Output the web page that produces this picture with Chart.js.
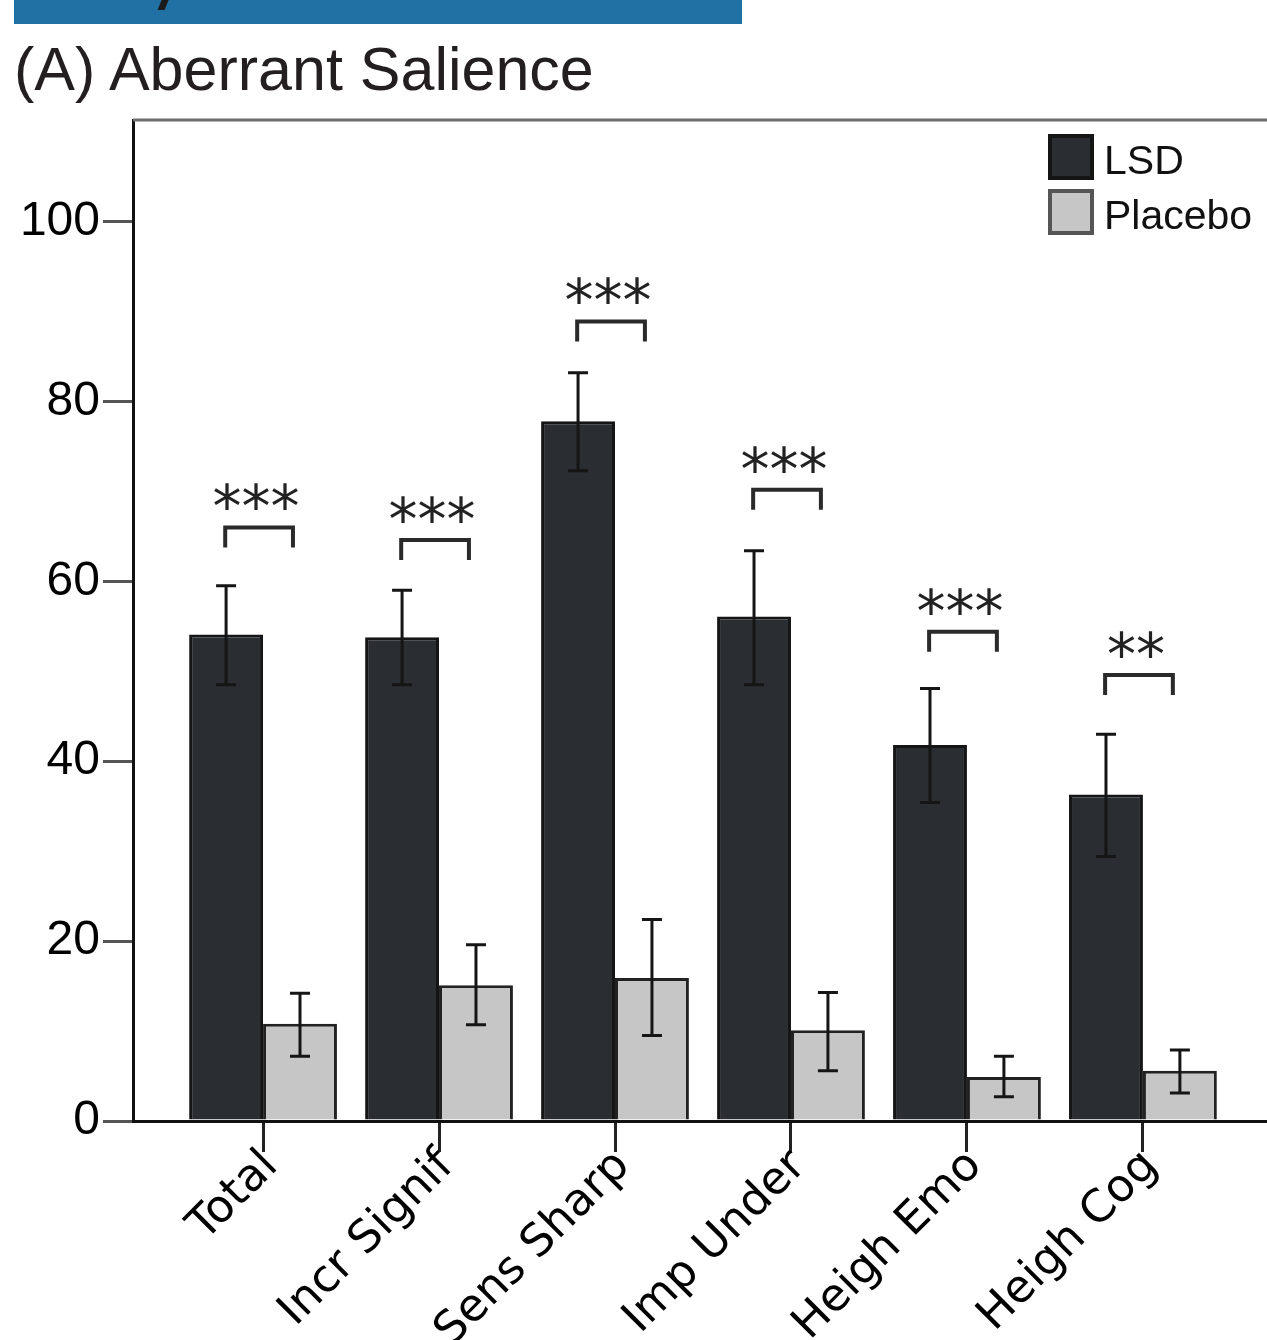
<!DOCTYPE html>
<html>
<head>
<meta charset="utf-8">
<title>Aberrant Salience</title>
<script src="https://cdn.jsdelivr.net/npm/chart.js@4.4.1/dist/chart.umd.min.js"></script>
<style>
  html, body { margin: 0; padding: 0; background: #fff; }
  body { width: 1267px; height: 1340px; position: relative; overflow: hidden; font-family: "Liberation Sans", Arial, sans-serif; }
  #banda { position: absolute; left: 14px; top: 0; width: 728px; height: 24px; background: #2271a5; overflow: hidden; }
  #banda span { position: absolute; left: 146px; top: -2px; width: 7px; height: 12px; background: #1a1a1a; transform: skewX(-22deg); }
  #titulo { position: absolute; left: 14px; top: 39px; font-size: 61px; line-height: 60px; color: #231f20; white-space: nowrap; }
  #grafico { position: absolute; left: 0; top: 0; }
</style>
</head>
<body>
<div id="banda"><span></span></div>
<div id="titulo">(A) Aberrant Salience</div>
<canvas id="grafico" width="1267" height="1340"></canvas>
<script>
// Datos
const categorias = ['Total', 'Incr Signif', 'Sens Sharp', 'Imp Under', 'Heigh Emo', 'Heigh Cog'];
const mediasLSD = [54.1, 53.8, 77.8, 56.1, 41.8, 36.3];
const errSupLSD = [59.5, 59.0, 83.2, 63.4, 48.1, 43.0];
const errInfLSD = [48.5, 48.5, 72.3, 48.5, 35.4, 29.4];
const mediasPlacebo = [10.8, 15.1, 15.9, 10.1, 4.9, 5.6];
const errSupPlacebo = [14.2, 19.6, 22.4, 14.3, 7.2, 7.9];
const errInfPlacebo = [7.2, 10.7, 9.5, 5.6, 2.7, 3.1];
const significancia = ['***', '***', '***', '***', '***', '**'];
const alturaCorchete = [66.0, 64.6, 88.9, 70.2, 54.4, 49.6];
const ticksY = [0, 20, 40, 60, 80, 100];
const series = ['LSD', 'Placebo'];

const colorLSD = '#2a2d31';
const colorPlacebo = '#c5c6c5';

// Plugin para marco superior, barras de error, corchetes y leyenda
const extras = {
  id: 'extras',
  afterDatasetsDraw(chart) {
    const ctx = chart.ctx;
    const area = chart.chartArea;
    const escX = chart.scales.x;
    const escY = chart.scales.y;
    ctx.save();

    // linea superior del marco
    ctx.strokeStyle = '#6e6e6e';
    ctx.lineWidth = 3;
    ctx.beginPath();
    ctx.moveTo(area.left, area.top);
    ctx.lineTo(area.right, area.top);
    ctx.stroke();

    // barras de error
    const errores = [[errSupLSD, errInfLSD], [errSupPlacebo, errInfPlacebo]];
    errores.forEach(([sup, inf], d) => {
      chart.getDatasetMeta(d).data.forEach((barra, i) => {
        const ys = escY.getPixelForValue(sup[i]);
        const yi = escY.getPixelForValue(inf[i]);
        ctx.strokeStyle = '#151515';
        ctx.lineWidth = 3;
        ctx.beginPath();
        ctx.moveTo(barra.x, ys);
        ctx.lineTo(barra.x, yi);
        ctx.moveTo(barra.x - 10, ys);
        ctx.lineTo(barra.x + 10, ys);
        ctx.moveTo(barra.x - 10, yi);
        ctx.lineTo(barra.x + 10, yi);
        ctx.stroke();
      });
    });

    // corchetes de significancia
    ctx.font = '58px "DejaVu Sans"';
    ctx.textAlign = 'center';
    ctx.textBaseline = 'alphabetic';
    categorias.forEach((c, i) => {
      const x1 = escX.getPixelForValue(i - 0.215);
      const x2 = escX.getPixelForValue(i + 0.17);
      const yc = escY.getPixelForValue(alturaCorchete[i]);
      ctx.strokeStyle = '#2a2a2a';
      ctx.lineWidth = 4;
      ctx.beginPath();
      ctx.moveTo(x1, yc + 20);
      ctx.lineTo(x1, yc);
      ctx.lineTo(x2, yc);
      ctx.lineTo(x2, yc + 20);
      ctx.stroke();
      const m = ctx.measureText(significancia[i]);
      ctx.fillStyle = '#222';
      ctx.fillText(significancia[i], (x1 + x2) / 2 - 3, yc - 17 - m.actualBoundingBoxDescent);
    });

    // leyenda
    const lx = area.right - 217;
    const estilos = [
      { fondo: colorLSD, borde: '#151515' },
      { fondo: colorPlacebo, borde: '#555' }
    ];
    ctx.font = '41px "Liberation Sans", Arial, sans-serif';
    ctx.textAlign = 'left';
    ctx.textBaseline = 'middle';
    series.forEach((s, k) => {
      const ly = area.top + 16 + k * 55;
      ctx.fillStyle = estilos[k].fondo;
      ctx.fillRect(lx, ly, 42, 42);
      ctx.strokeStyle = estilos[k].borde;
      ctx.lineWidth = 4;
      ctx.strokeRect(lx, ly, 42, 42);
      ctx.fillStyle = '#111';
      ctx.fillText(s, lx + 54, ly + 27);
    });

    ctx.restore();
  }
};

const config = {
  type: 'bar',
  data: {
    datasets: [
      {
        label: series[0],
        data: mediasLSD.map((v, i) => ({ x: i, y: v })),
        backgroundColor: colorLSD,
        borderColor: '#151515',
        borderWidth: 3
      },
      {
        label: series[1],
        data: mediasPlacebo.map((v, i) => ({ x: i, y: v })),
        backgroundColor: colorPlacebo,
        borderColor: '#222',
        borderWidth: 3
      }
    ]
  },
  options: {
    responsive: false,
    animation: false,
    categoryPercentage: 0.84,
    barPercentage: 1.0,
    layout: { padding: { top: 120, right: 0, left: 0, bottom: 0 } },
    plugins: {
      legend: { display: false },
      tooltip: { enabled: false }
    },
    scales: {
      x: {
        type: 'linear',
        offset: false,
        min: -0.739,
        max: 5.705,
        afterBuildTicks: (escala) => { escala.ticks = categorias.map((c, i) => ({ value: i })); },
        afterFit: (escala) => { escala.height = 219; },
        grid: { offset: false, drawOnChartArea: false, drawTicks: true, tickLength: 31, color: '#222', lineWidth: 3 },
        border: { display: true, color: '#111', width: 3 },
        ticks: {
          autoSkip: false,
          maxRotation: 45,
          minRotation: 45,
          padding: -12,
          labelOffset: 8,
          color: '#000',
          font: { family: '"DejaVu Sans", sans-serif', size: 45 },
          callback: (v) => categorias[v]
        }
      },
      y: {
        min: 0,
        max: 111.3,
        afterBuildTicks: (escala) => { escala.ticks = ticksY.map(v => ({ value: v })); },
        afterFit: (escala) => { escala.width = 133; },
        grid: { drawOnChartArea: false, drawTicks: true, tickLength: 30, color: '#555', lineWidth: 3 },
        border: { display: true, color: '#111', width: 3 },
        ticks: {
          padding: 3,
          color: '#000',
          font: { family: '"Liberation Sans", Arial, sans-serif', size: 48 }
        }
      }
    }
  },
  plugins: [extras]
};

const ctxGrafico = document.getElementById('grafico').getContext('2d');
const miGrafico = new Chart(ctxGrafico, config);
</script>
</body>
</html>
